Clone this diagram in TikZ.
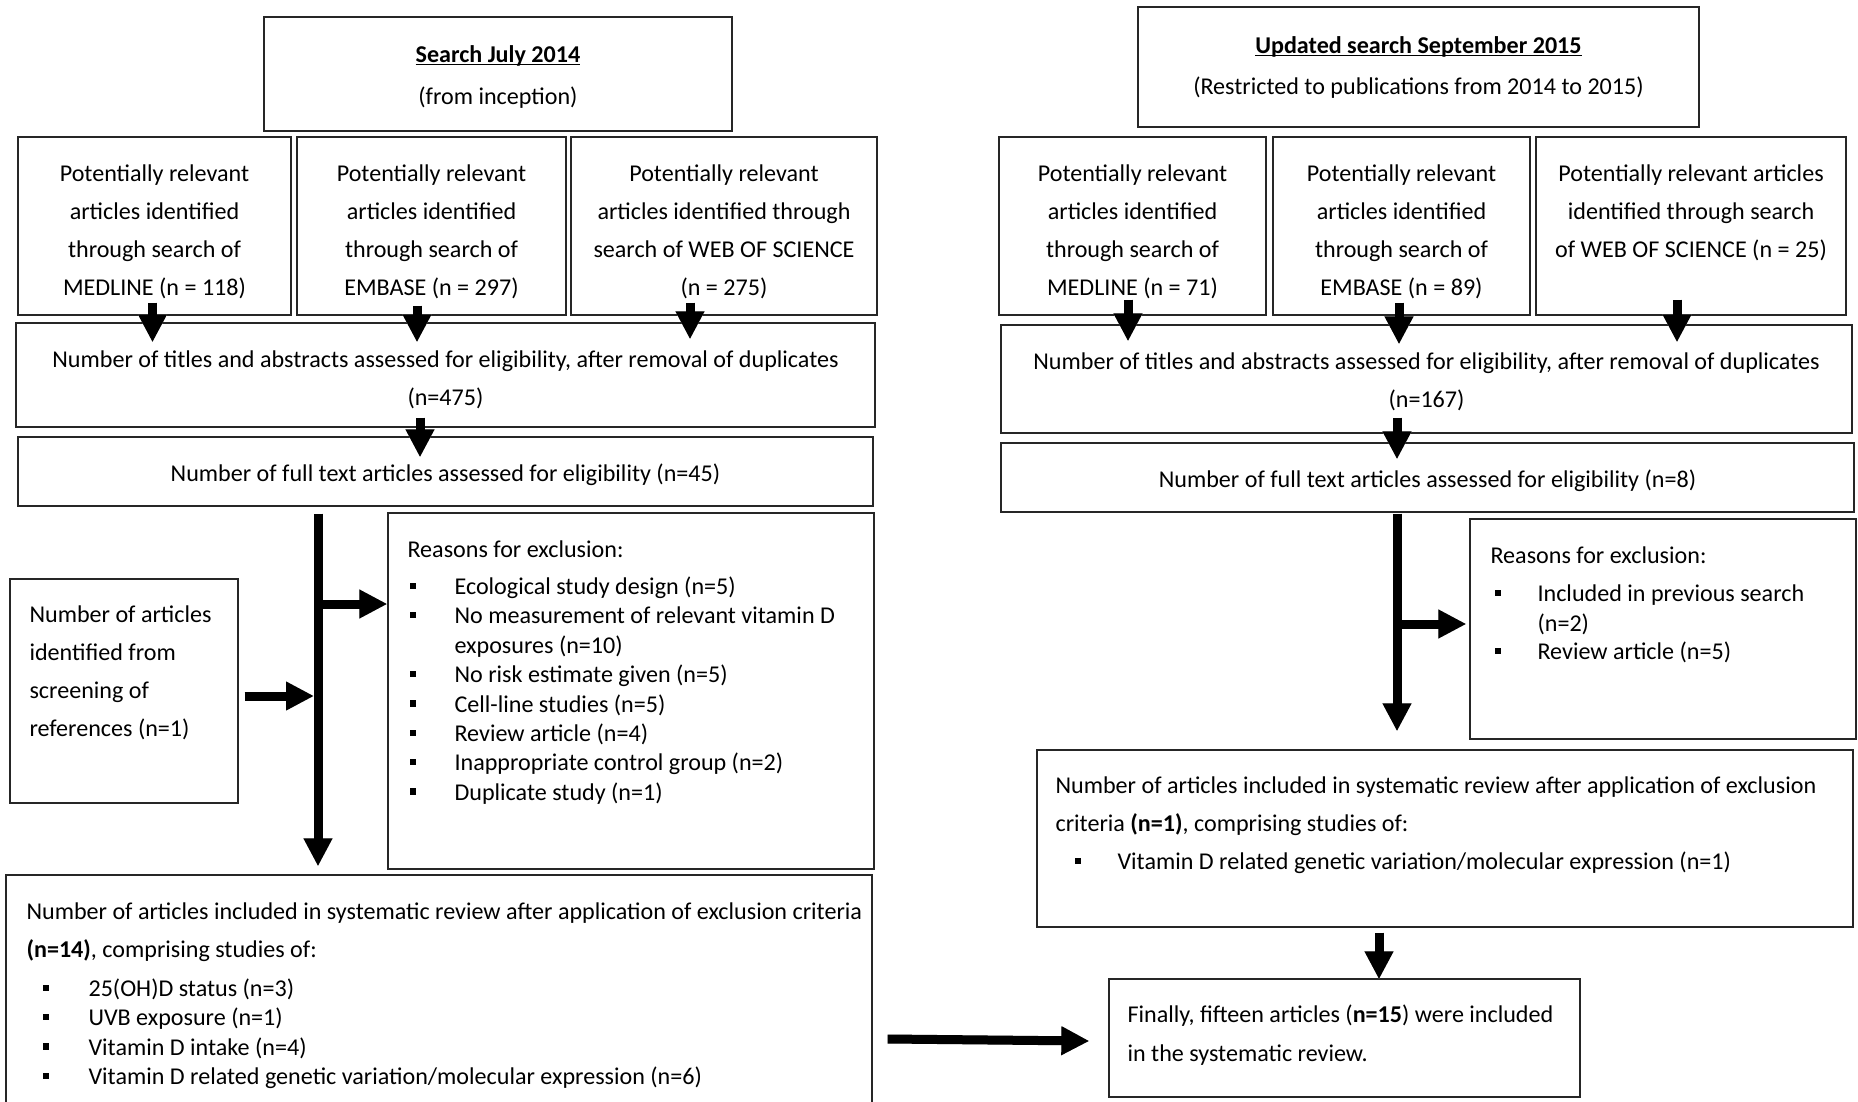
\documentclass[tikz,border=0pt]{standalone}
\usepackage{fontspec}
\setmainfont{Carlito}
\usetikzlibrary{arrows.meta,calc,fit}

% bold heading with a rule just under the baseline
\newcommand\ulbold[1]{\setbox0\hbox{\bfseries #1}\rlap{\rule[-2.8pt]{\wd0}{1.5pt}}\box0}
% square list bullet: #1 indent, #2 width of the bullet column
\newcommand\bul[2]{\hspace*{#1}\makebox[#2][l]{\rule[5.5pt]{6.5pt}{6.5pt}}}
% fixes the height of the first line of every text block
\newcommand\fst{\rule{0pt}{24pt}}
% thick arrow with a soft grey shadow
\newcommand\flow[2]{%
  \draw[bigarrow, black!22, shift={(3,3)}] #1 -- #2;
  \draw[bigarrow] #1 -- #2;}

\begin{document}
\begin{tikzpicture}[x=1pt,y=-1pt,
  every node/.style={font=\fontsize{24.1}{38}\selectfont, inner sep=0pt},
  frame/.style={draw=black!85, line width=1.3pt, inner sep=0pt},
  ctext/.style={align=center, anchor=north},
  ltext/.style={align=left, anchor=north west},
  bigarrow/.style={line width=9pt, -{Triangle[length=28pt,width=27pt]}, black},
  ]
\useasboundingbox (0,0) rectangle (1858,1102);
\clip (0,0) rectangle (1858,1102);

% ---------------- first search (July 2014) ----------------
\node[frame, fit={(264,17)(732,131)}]  (searchL) {};
\node[frame, fit={(18,137)(291,315)}]  (srcL1) {};
\node[frame, fit={(297,137)(566,315)}] (srcL2) {};
\node[frame, fit={(571,137)(877,315)}] (srcL3) {};
\node[frame, fit={(16,323)(875,427)}]  (titlesL) {};
\node[frame, fit={(18,437)(873,506)}]  (fullL) {};
\node[frame, fit={(10,579)(238,803)}]  (refsL) {};
\node[frame, fit={(388,513)(874,869)}] (exclL) {};
\node[frame, fit={(6,875)(872,1115)}]  (inclL) {};

\node[ctext] at ([yshift=-22pt]searchL.north) {\fst\ulbold{Search July 2014}\\[4pt](from inception)};
\node[ctext] at ([yshift=-21pt]srcL1.north) {\fst Potentially relevant\\articles identified\\through search of\\MEDLINE (n = 118)};
\node[ctext] at ([yshift=-21pt]srcL2.north) {\fst Potentially relevant\\articles identified\\through search of\\EMBASE (n = 297)};
\node[ctext] at ([yshift=-21pt]srcL3.north) {\fst Potentially relevant\\articles identified through\\search of WEB OF SCIENCE\\(n = 275)};
\node[ctext] at ([yshift=-21pt]titlesL.north) {\fst Number of titles and abstracts assessed for eligibility, after removal of duplicates\\(n=475)};
\node[ctext] at ([yshift=-21pt]fullL.north) {\fst Number of full text articles assessed for eligibility (n=45)};
\node[ltext] at ([xshift=20pt,yshift=-20pt]refsL.north west) {\fst Number of articles\\identified from\\screening of\\references (n=1)};
\node[ltext] at ([xshift=20pt,yshift=-21pt]exclL.north west) {\fst Reasons for exclusion:\\[-1pt]
  \bul{2pt}{45pt}Ecological study design (n=5)\\[-8.6pt]
  \bul{2pt}{45pt}No measurement of relevant vitamin D\\[-8.6pt]
  \hspace*{47pt}exposures (n=10)\\[-8.6pt]
  \bul{2pt}{45pt}No risk estimate given (n=5)\\[-8.6pt]
  \bul{2pt}{45pt}Cell-line studies (n=5)\\[-8.6pt]
  \bul{2pt}{45pt}Review article (n=4)\\[-8.6pt]
  \bul{2pt}{45pt}Inappropriate control group (n=2)\\[-8.6pt]
  \bul{2pt}{45pt}Duplicate study (n=1)};
\node[ltext] at ([xshift=21pt,yshift=-21pt]inclL.north west) {\fst Number of articles included in systematic review after application of exclusion criteria\\
  \textbf{(n=14)}, comprising studies of:\\[1pt]
  \bul{16pt}{46pt}25(OH)D status (n=3)\\[-8.6pt]
  \bul{16pt}{46pt}UVB exposure (n=1)\\[-8.6pt]
  \bul{16pt}{46pt}Vitamin D intake (n=4)\\[-8.6pt]
  \bul{16pt}{46pt}Vitamin D related genetic variation/molecular expression (n=6)};

% ---------------- updated search (September 2015) ----------------
\node[frame, fit={(1138,7)(1699,127)}]    (searchR) {};
\node[frame, fit={(999,137)(1266,315)}]   (srcR1) {};
\node[frame, fit={(1273,137)(1530,315)}]  (srcR2) {};
\node[frame, fit={(1536,137)(1846,315)}]  (srcR3) {};
\node[frame, fit={(1001,325)(1852,433)}]  (titlesR) {};
\node[frame, fit={(1001,443)(1854,512)}]  (fullR) {};
\node[frame, fit={(1470,519)(1856,739)}]  (exclR) {};
\node[frame, fit={(1037,750)(1853,927)}]  (inclR) {};
\node[frame, fit={(1109,979)(1580,1097)}] (finalR) {};

\node[ctext] at ([yshift=-23pt]searchR.north) {\fst\ulbold{Updated search September 2015}\\[3pt](Restricted to publications from 2014 to 2015)};
\node[ctext] at ([yshift=-21pt]srcR1.north) {\fst Potentially relevant\\articles identified\\through search of\\MEDLINE (n = 71)};
\node[ctext] at ([yshift=-21pt]srcR2.north) {\fst Potentially relevant\\articles identified\\through search of\\EMBASE (n = 89)};
\node[ctext] at ([yshift=-21pt]srcR3.north) {\fst Potentially relevant articles\\identified through search\\of WEB OF SCIENCE (n = 25)};
\node[ctext] at ([yshift=-21pt]titlesR.north) {\fst Number of titles and abstracts assessed for eligibility, after removal of duplicates\\(n=167)};
\node[ctext] at ([yshift=-21pt]fullR.north) {\fst Number of full text articles assessed for eligibility (n=8)};
\node[ltext] at ([xshift=21pt,yshift=-21pt]exclR.north west) {\fst Reasons for exclusion:\\
  \bul{4pt}{43pt}Included in previous search\\[-8pt]
  \hspace*{47pt}(n=2)\\[-10pt]
  \bul{4pt}{43pt}Review article (n=5)};
\node[ltext] at ([xshift=19pt,yshift=-20pt]inclR.north west) {\fst Number of articles included in systematic review after application of exclusion\\
  criteria \textbf{(n=1)}, comprising studies of:\\
  \bul{19pt}{43pt}Vitamin D related genetic variation/molecular expression (n=1)};
\node[ltext] at ([xshift=19pt,yshift=-20pt]finalR.north west) {\fst Finally, fifteen articles (\textbf{n=15}) were included\\[1pt]
  in the systematic review.};

% ---------------- arrows ----------------
\coordinate (jL) at (318,604);
\coordinate (jR) at (1397,624);

\flow{($(srcL1.south)+(-2,-13)$)}{($(srcL1.south |- titlesL.north)+(-2,20)$)}
\flow{($(srcL2.south)+(-14.5,-10)$)}{($(srcL2.south |- titlesL.north)+(-14.5,20)$)}
\flow{($(srcL3.south)+(-34,-13)$)}{($(srcL3.south |- titlesL.north)+(-34,17)$)}
\flow{($(titlesL.south)+(-25.5,-10)$)}{($(titlesL.south |- fullL.north)+(-25.5,21)$)}
\flow{($(fullL.south -| jL)+(0,7)$)}{($(inclL.north -| jL)+(0,-8)$)}
\flow{(jL)}{(jL -| exclL.west)}
\flow{($(refsL.east)+(6,5)$)}{($(refsL.east -| jL)+(-4,5)$)}
\flow{($(inclL.east |- finalR.west)+(15,1)$)}{($(finalR.west)+(-19,3)$)}

\flow{($(srcR1.south)+(-4.5,-16)$)}{($(srcR1.south |- titlesR.north)+(-4.5,17)$)}
\flow{($(srcR2.south)+(-2.5,-13)$)}{($(srcR2.south |- titlesR.north)+(-2.5,20)$)}
\flow{($(srcR3.south)+(-14,-16)$)}{($(srcR3.south |- titlesR.north)+(-14,18)$)}
\flow{($(titlesR.south -| jR)+(0,-16)$)}{($(fullR.north -| jR)+(0,17)$)}
\flow{($(fullR.south -| jR)+(0,1)$)}{($(inclR.north -| jR)+(0,-18)$)}
\flow{(jR)}{($(jR -| exclR.west)+(-3,0)$)}
\flow{($(inclR.south)+(-66,5)$)}{($(finalR.north -| inclR.south)+(-66,1)$)}
\end{tikzpicture}
\end{document}
